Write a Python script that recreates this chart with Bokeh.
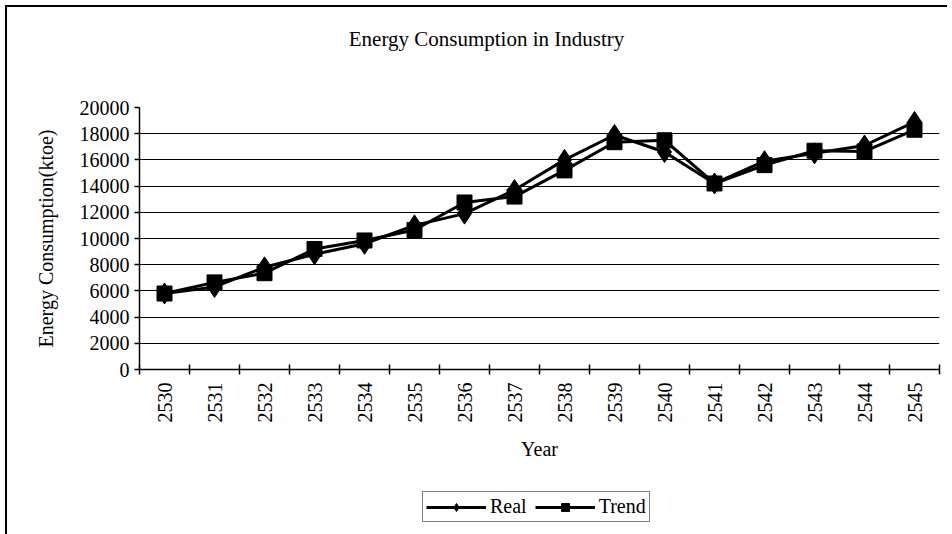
from bokeh.plotting import figure
from bokeh.models import FixedTicker, Range1d, Legend, LegendItem, Label
from bokeh.layouts import column
from bokeh.embed import file_html
from bokeh.resources import INLINE
import math

years = ["2530", "2531", "2532", "2533", "2534", "2535", "2536", "2537",
         "2538", "2539", "2540", "2541", "2542", "2543", "2544", "2545"]
real = [5800, 6300, 7800, 8800, 9600, 11000, 11900, 13700,
        16000, 17900, 16600, 14200, 15900, 16500, 17100, 18900]
trend = [5800, 6650, 7350, 9200, 9850, 10650, 12750, 13200,
         15200, 17350, 17500, 14200, 15600, 16700, 16650, 18300]
y_ticks = [0, 2000, 4000, 6000, 8000, 10000, 12000, 14000, 16000, 18000, 20000]
title_text = "Energy Consumption in Industry"

xs = list(range(len(years)))
FONT = "Liberation Serif"
W = 940

# title strip (its frame is aligned with the chart frame: 800 px wide)
tp = figure(width=W, height=60, output_backend="svg", toolbar_location=None,
            x_range=Range1d(0, 800), y_range=Range1d(0, 60), min_border=0,
            x_axis_location=None, y_axis_location=None)
tp.grid.visible = False
tp.outline_line_color = None
tp.add_layout(Label(x=347, y=29, text=title_text, text_align="center",
                    text_baseline="middle", text_font=FONT,
                    text_font_size="21px", text_color="black"))

# main chart
p = figure(width=W, height=410, output_backend="svg", toolbar_location=None,
           x_range=Range1d(-0.5, len(years) - 0.5), y_range=Range1d(0, 20000),
           min_border_left=132, min_border_right=8, min_border_top=40,
           min_border_bottom=108)
p.outline_line_color = None

xa = p.xaxis[0]
xa.ticker = FixedTicker(ticks=xs, minor_ticks=[i - 0.5 for i in range(len(years) + 1)])
xa.major_label_overrides = {i: y for i, y in zip(xs, years)}
xa.major_label_orientation = math.pi / 2
xa.major_tick_in = 0
xa.major_tick_out = 0
xa.minor_tick_in = 5
xa.minor_tick_out = 5
xa.minor_tick_line_color = "black"
xa.minor_tick_line_width = 1.5
xa.axis_line_color = "black"
xa.axis_line_width = 1.5
xa.major_label_text_font = FONT
xa.major_label_text_font_size = "20px"
xa.major_label_text_color = "black"
xa.major_label_standoff = 8
xa.axis_label = "Year"
xa.axis_label_text_font = FONT
xa.axis_label_text_font_size = "20px"
xa.axis_label_text_font_style = "normal"
xa.axis_label_text_color = "black"
xa.axis_label_standoff = 12

ya = p.yaxis[0]
ya.ticker = FixedTicker(ticks=y_ticks)
ya.major_tick_in = 0
ya.major_tick_out = 5
ya.major_tick_line_width = 1.5
ya.minor_tick_line_color = None
ya.axis_line_color = "black"
ya.axis_line_width = 1.5
ya.major_label_text_font = FONT
ya.major_label_text_font_size = "20px"
ya.major_label_text_color = "black"
ya.major_label_standoff = 5
ya.axis_label = "Energy Consumption(ktoe)"
ya.axis_label_text_font = FONT
ya.axis_label_text_font_size = "20px"
ya.axis_label_text_font_style = "normal"
ya.axis_label_text_color = "black"
ya.axis_label_standoff = 20

p.xgrid.grid_line_color = None
p.ygrid.ticker = FixedTicker(ticks=y_ticks)
p.ygrid.grid_line_color = "black"
p.ygrid.grid_line_width = 1.2

p.line(xs, real, line_color="black", line_width=3)
p.scatter(xs, real, marker="diamond", size=21, fill_color="black", line_color="black")
p.line(xs, trend, line_color="black", line_width=3)
p.scatter(xs, trend, marker="square", size=15, fill_color="black", line_color="black")

# legend strip (series drawn outside its visible range, only the key shows)
lg = figure(width=W, height=57, output_backend="svg", toolbar_location=None,
            x_range=Range1d(100, 101), y_range=Range1d(-2, -1), min_border=0,
            x_axis_location=None, y_axis_location=None)
lg.grid.visible = False
lg.outline_line_color = None
k1l = lg.line(xs, real, line_color="black", line_width=3)
k1m = lg.scatter(xs, real, marker="diamond", size=20, fill_color="black", line_color="black")
k2l = lg.line(xs, trend, line_color="black", line_width=3)
k2m = lg.scatter(xs, trend, marker="square", size=16, fill_color="black", line_color="black")

legend = Legend(items=[LegendItem(label="Real", renderers=[k1l, k1m]),
                       LegendItem(label="Trend", renderers=[k2l, k2m])],
                orientation="horizontal", location=(283, 12))
legend.label_text_font = FONT
legend.label_text_font_size = "20px"
legend.label_text_color = "black"
legend.border_line_color = "black"
legend.border_line_width = 1.2
legend.glyph_width = 60
legend.glyph_height = 20
legend.padding = 3
legend.spacing = 8
legend.margin = 0
legend.label_standoff = 4
legend.label_height = 20
lg.add_layout(legend, "center")

layout = column(tp, p, lg, spacing=0,
                styles={"margin-left": "5px", "margin-top": "5px",
                        "border-top": "2px solid black",
                        "border-left": "2px solid black"})

open("out.html", "w").write(file_html(layout, INLINE))
